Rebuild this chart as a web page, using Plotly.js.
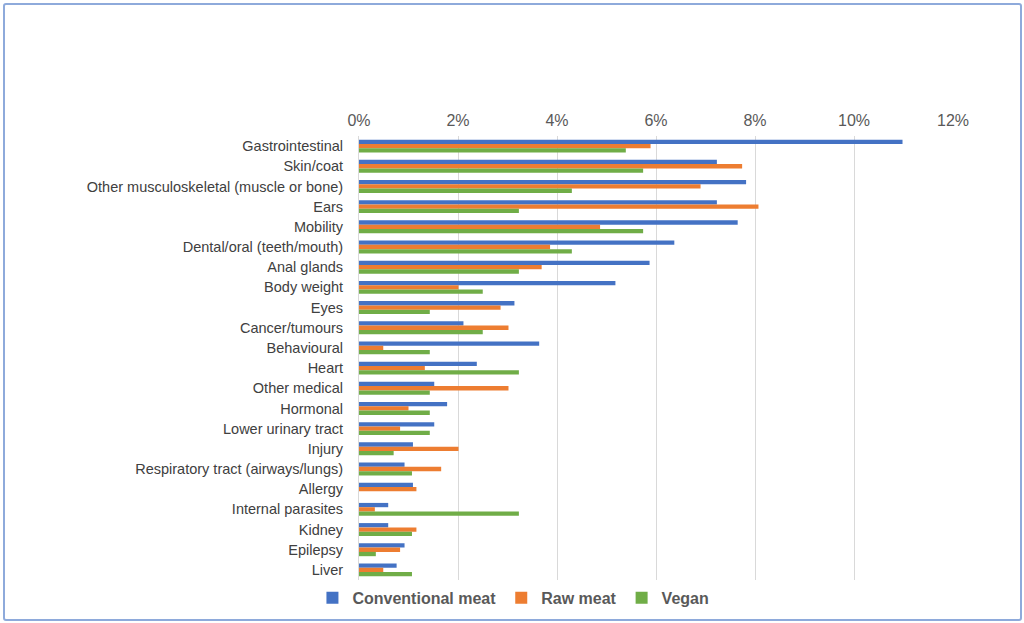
<!DOCTYPE html>
<html>
<head>
<meta charset="utf-8">
<script src="https://cdn.plot.ly/plotly-3.0.1.min.js"></script>
<style>
  body { margin: 0; background: #fff; }
  #chart { width: 1024px; height: 623px; }
  #frame {
    position: absolute; left: 3px; top: 3px; width: 1015px; height: 614px;
    border: 2px solid #8eaadb; border-radius: 3px; pointer-events: none;
  }
</style>
</head>
<body>
<div id="chart"></div>
<div id="frame"></div>
<script>
// CATEGORIES (top to bottom)
const categories = [
  'Gastrointestinal', 'Skin/coat', 'Other musculoskeletal (muscle or bone)', 'Ears',
  'Mobility', 'Dental/oral (teeth/mouth)', 'Anal glands', 'Body weight', 'Eyes',
  'Cancer/tumours', 'Behavioural', 'Heart', 'Other medical', 'Hormonal',
  'Lower urinary tract', 'Injury', 'Respiratory tract (airways/lungs)', 'Allergy',
  'Internal parasites', 'Kidney', 'Epilepsy', 'Liver',
]

// SERIES VALUES (share of dogs, fraction)
const conventionalMeat = [
  0.1098, 0.0723, 0.0782, 0.0723, 0.0765, 0.0637, 0.0587, 0.0518, 0.0314,
  0.0211, 0.0364, 0.0238, 0.0152, 0.0178, 0.0152, 0.0109, 0.0092, 0.0109,
  0.0059, 0.0059, 0.0092, 0.0076,
]
const rawMeat = [
  0.0589, 0.0774, 0.0690, 0.0807, 0.0487, 0.0386, 0.0369, 0.0201, 0.0286,
  0.0302, 0.0049, 0.0133, 0.0302, 0.0100, 0.0083, 0.0201, 0.0166, 0.0116,
  0.0032, 0.0116, 0.0083, 0.0049,
]
const vegan = [
  0.0539, 0.0574, 0.0430, 0.0323, 0.0574, 0.0430, 0.0323, 0.0250, 0.0143,
  0.0250, 0.0143, 0.0323, 0.0143, 0.0143, 0.0143, 0.0070, 0.0107, 0,
  0.0323, 0.0107, 0.0034, 0.0107,
]

// TICKS
const tickVals = [0, 0.02, 0.04, 0.06, 0.08, 0.10, 0.12]
const tickText = ['0%', '2%', '4%', '6%', '8%', '10%', '12%']

const font = 'Liberation Sans, Arial, sans-serif'

function makeTrace(name, values, color) {
  return {
    type: 'bar',
    orientation: 'h',
    name,
    x: values,
    y: categories,
    marker: { color },
    hoverinfo: 'x+y',
  }
}

const data = [
  makeTrace('Conventional meat', conventionalMeat, '#4472c4'),
  makeTrace('Raw meat', rawMeat, '#ed7d31'),
  makeTrace('Vegan', vegan, '#70ad47'),
]

const layout = {
  width: 1024,
  height: 623,
  margin: { l: 359, r: 71, t: 136, b: 43, autoexpand: false },
  paper_bgcolor: '#fff',
  plot_bgcolor: '#fff',
  barmode: 'group',
  bargap: 0.36,
  bargroupgap: 0,
  font: { family: font, color: '#404040' },
  xaxis: {
    side: 'top',
    range: [0, 0.12],
    tickvals: tickVals,
    ticktext: tickText,
    showgrid: true,
    gridcolor: '#d9d9d9',
    gridwidth: 1,
    zeroline: false,
    showline: false,
    ticks: '',
    ticklabelstandoff: 6,
    automargin: false,
    tickfont: { family: font, size: 16, color: '#595959' },
  },
  yaxis: {
    autorange: 'reversed',
    showgrid: false,
    zeroline: false,
    showline: true,
    linecolor: '#d9d9d9',
    ticks: '',
    ticklabelstandoff: 12,
    automargin: false,
    tickfont: { family: font, size: 14.5, color: '#404040' },
  },
  legend: {
    orientation: 'h',
    x: 0.26,
    xanchor: 'center',
    y: -0.04,
    yanchor: 'middle',
    traceorder: 'normal',
    font: { family: font, size: 16, color: '#595959', weight: 'bold' },
    itemwidth: 30,
  },
  showlegend: true,
}

Plotly.newPlot('chart', data, layout, { displayModeBar: false, staticPlot: true })
</script>
</body>
</html>
